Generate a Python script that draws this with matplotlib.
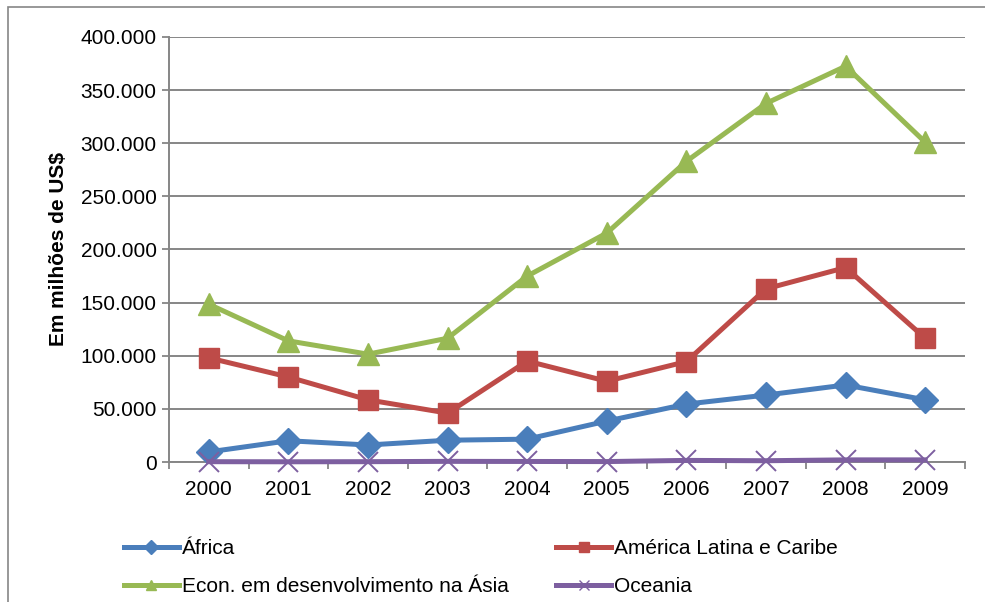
import matplotlib.pyplot as plt
import matplotlib.patches as mpatches
from matplotlib.ticker import FuncFormatter, FixedLocator

plt.rcParams["font.family"] = ["Liberation Sans", "DejaVu Sans"]

years = ["2000", "2001", "2002", "2003", "2004", "2005", "2006", "2007", "2008", "2009"]
africa = [9500, 20000, 16000, 20500, 21500, 38500, 54500, 63000, 72500, 58500]
america_latina = [98000, 80000, 58500, 46000, 95000, 76000, 94500, 163000, 183000, 116500]
asia = [148500, 114000, 101500, 116500, 175000, 215500, 283000, 337500, 372500, 301000]
oceania = [300, 200, 300, 600, 500, 400, 1500, 1200, 2000, 2000]

COLOR_AFRICA = "#4A7EBB"
COLOR_AMERICA = "#BE4B48"
COLOR_ASIA = "#98B954"
COLOR_OCEANIA = "#7D5FA0"
COLOR_GRID = "#868686"
FS = 15


def thousands(v, _pos):
    return f"{int(v):,}".replace(",", ".")


fig = plt.figure(figsize=(9.85, 6.02), dpi=100)
fig.patch.set_facecolor("white")
fig.patches.append(mpatches.Rectangle((8 / 985, -0.01), 1.0, 1 - 7 / 602 + 0.01,
                                      transform=fig.transFigure, fill=False,
                                      edgecolor="#868686", linewidth=1.2))

ax = fig.add_axes([169 / 985, 1 - 462 / 602, (965 - 169) / 985, (462 - 37) / 602])
x = range(len(years))

lw = 3.6
h_af, = ax.plot(x, africa, color=COLOR_AFRICA, lw=lw, marker="D", ms=13, label="África", zorder=3)
h_am, = ax.plot(x, america_latina, color=COLOR_AMERICA, lw=lw, marker="s", ms=15,
                label="América Latina e Caribe", zorder=3)
h_as, = ax.plot(x, asia, color=COLOR_ASIA, lw=lw, marker="^", ms=16,
                label="Econ. em desenvolvimento na Ásia", zorder=3)
h_oc, = ax.plot(x, oceania, color=COLOR_OCEANIA, lw=lw, marker="x", ms=14, mew=1.4,
                label="Oceania", zorder=4, clip_on=False)

ax.set_xlim(-0.5, len(years) - 0.5)
ax.set_ylim(0, 400000)
ax.set_yticks(range(0, 400001, 50000))
ax.yaxis.set_major_formatter(FuncFormatter(thousands))
ax.set_xticks(list(x))
ax.set_xticklabels(years)
ax.xaxis.set_minor_locator(FixedLocator([i - 0.5 for i in range(len(years) + 1)]))
ax.tick_params(axis="x", which="major", length=0, pad=13, labelsize=FS)
ax.tick_params(axis="x", which="minor", length=5, width=1.3, color=COLOR_GRID)
ax.tick_params(axis="y", length=5, width=1.3, color=COLOR_GRID, labelsize=FS, pad=4)

ax.grid(axis="y", color=COLOR_GRID, linewidth=1.4, zorder=0)
ax.set_axisbelow(True)
for side in ["top", "right"]:
    ax.spines[side].set_visible(False)
ax.spines["left"].set_color(COLOR_GRID)
ax.spines["bottom"].set_color(COLOR_GRID)
ax.spines["left"].set_linewidth(1.4)
ax.spines["bottom"].set_linewidth(1.4)

ax.set_ylabel("Em milhões de US$", fontsize=FS, fontweight="bold", labelpad=9)

handles = [h_af, h_as, h_am, h_oc]
leg_handles = []
for h in handles:
    leg_handles.append(plt.Line2D([], [], color=h.get_color(), lw=3.6, marker=h.get_marker(),
                                  ms=7, mew=1.0, label=h.get_label()))
fig.legend(handles=leg_handles, loc="upper left", bbox_to_anchor=(116 / 985, 1 - 531 / 602),
           ncol=2, frameon=False, fontsize=FS, handlelength=2.6, handletextpad=0.15,
           columnspacing=2.3, labelspacing=0.9, borderaxespad=0)

fig.savefig("out.png", dpi=100, facecolor="white")
